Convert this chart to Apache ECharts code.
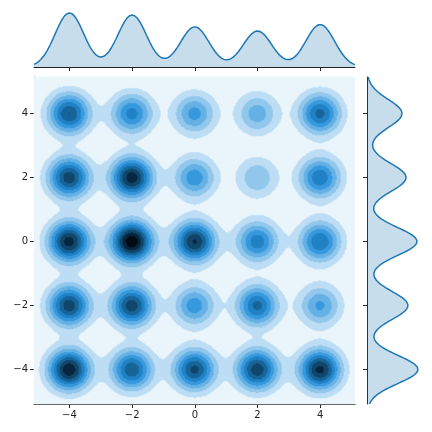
<!DOCTYPE html>
<html>
<head>
<meta charset="utf-8">
<script src="https://cdn.jsdelivr.net/npm/echarts@6/dist/echarts.min.js"></script>
<style>
  html, body { margin: 0; padding: 0; background: #fff; }
  #chart { width: 432px; height: 432px; }
</style>
</head>
<body>
<div id="chart"></div>
<script>
// blob centres on both axes
const centers = [-4, -2, 0, 2, 4]
const rowY = [4, 2, 0, -2, -4]
// peak density of each blob (in contour steps), rows y=4 .. y=-4
const peakRows = [
  [7.0, 5.4, 4.4, 3.6, 6.3],
  [7.6, 8.6, 4.7, 2.9, 5.8],
  [8.5, 9.8, 8.1, 5.6, 6.0],
  [7.6, 7.6, 4.6, 6.3, 4.2],
  [8.8, 6.8, 7.3, 7.7, 8.3]
]
// marginal kde peaks
const topPeaks = [0.209, 0.201, 0.155, 0.139, 0.164]   // x = -4 .. 4
const sidePeaks = [0.147, 0.164, 0.210, 0.172, 0.214]  // y = 4 .. -4
const tickValues = [-4, -2, 0, 2, 4]

const xRange = [-5.13, 5.11]
const yRange = [-5.08, 5.14]
const bwX = 0.46
const bwY = 0.44
const nLevels = 10

// colours: lightness ramp on the hue of C0 (#1f77b4), like seaborn's joint kde
function hlsToRgb(h, l, s) {
  const m2 = l <= 0.5 ? l * (1 + s) : l + s - l * s
  const m1 = 2 * l - m2
  const f = hh => {
    hh = ((hh % 1) + 1) % 1
    if (hh < 1 / 6) return m1 + (m2 - m1) * hh * 6
    if (hh < 0.5) return m2
    if (hh < 2 / 3) return m1 + (m2 - m1) * (2 / 3 - hh) * 6
    return m1
  }
  const c = [f(h + 1 / 3), f(h), f(h - 1 / 3)].map(v => Math.round(v * 255))
  return 'rgb(' + c.join(',') + ')'
}
const pieces = []
for (let k = 0; k < nLevels; k++) {
  const p = { color: hlsToRgb(0.5682, 1 - (k + 0.5) / nLevels, 0.706) }
  if (k > 0) p.gte = k
  if (k < nLevels - 1) p.lt = k + 1
  pieces.push(p)
}

// density grid for the filled contours, about one cell per pixel
const nx = 321
const ny = 327
const dx = (xRange[1] - xRange[0]) / nx
const dy = (yRange[1] - yRange[0]) / ny
const xCats = []
const yCats = []
for (let i = 0; i < nx; i++) xCats.push(String(i))
for (let j = 0; j < ny; j++) yCats.push(String(j))
const grid = []
for (let i = 0; i < nx; i++) {
  const x = xRange[0] + (i + 0.5) * dx
  for (let j = 0; j < ny; j++) {
    const y = yRange[0] + (j + 0.5) * dy
    let d = 0
    peakRows.forEach((row, r) => {
      const ey = Math.exp(-((y - rowY[r]) ** 2) / (2 * bwY * bwY))
      row.forEach((a, c) => {
        d += a * ey * Math.exp(-((x - centers[c]) ** 2) / (2 * bwX * bwX))
      })
    })
    grid.push([i, j, d])
  }
}

// marginal curves
const nS = 400
const topLine = []
const sideCats = []
const sideLine = []
for (let k = 0; k < nS; k++) {
  const x = xRange[0] + (k * (xRange[1] - xRange[0])) / (nS - 1)
  let d = 0
  topPeaks.forEach((p, c) => { d += p * Math.exp(-((x - centers[c]) ** 2) / (2 * bwX * bwX)) })
  topLine.push([x, d])
  const y = yRange[0] + (k * (yRange[1] - yRange[0])) / (nS - 1)
  let e = 0
  sidePeaks.forEach((p, r) => { e += p * Math.exp(-((y - rowY[r]) ** 2) / (2 * bwY * bwY)) })
  sideCats.push(String(k))
  sideLine.push(e)
}

const minus = v => (v < 0 ? '\u2212' + Math.abs(v) : String(v))
const lineCol = '#222'
const visAxis = (extra) => Object.assign({
  type: 'value',
  splitLine: { show: false },
  axisLine: { show: true, lineStyle: { color: lineCol, width: 1 } },
  axisTick: { show: true, length: 4, customValues: tickValues, lineStyle: { color: lineCol, width: 1 } },
  axisLabel: {
    show: true, customValues: tickValues, formatter: minus, margin: 6,
    fontSize: 10, fontFamily: 'DejaVu Sans', color: '#222'
  }
}, extra)

const chart = echarts.init(document.getElementById('chart'), null, { renderer: 'canvas' })
chart.setOption({
  animation: false,
  backgroundColor: '#fff',
  grid: [
    { left: 34, top: 77, width: 321, height: 327 },
    { left: 34, top: 2, width: 321, height: 65 },
    { left: 367, top: 77, width: 65, height: 327 }
  ],
  xAxis: [
    { type: 'category', gridIndex: 0, data: xCats, show: false, position: 'bottom' },
    visAxis({ gridIndex: 0, position: 'bottom', min: xRange[0], max: xRange[1] }),
    visAxis({ gridIndex: 1, position: 'bottom', min: xRange[0], max: xRange[1], axisLabel: { show: false } }),
    { type: 'value', gridIndex: 2, min: 0, max: 0.2729, show: false }
  ],
  yAxis: [
    { type: 'category', gridIndex: 0, data: yCats, show: false, position: 'left' },
    visAxis({ gridIndex: 0, position: 'left', min: yRange[0], max: yRange[1] }),
    { type: 'value', gridIndex: 1, min: 0, max: 0.2512, show: false },
    { type: 'category', gridIndex: 2, data: sideCats, boundaryGap: false, show: false, position: 'left' },
    visAxis({ gridIndex: 2, position: 'left', min: yRange[0], max: yRange[1], axisLabel: { show: false } })
  ],
  visualMap: {
    type: 'piecewise',
    show: false,
    seriesIndex: 0,
    dimension: 2,
    pieces: pieces
  },
  series: [
    {
      type: 'heatmap',
      xAxisIndex: 0,
      yAxisIndex: 0,
      data: grid,
      progressive: 0,
      emphasis: { disabled: true }
    },
    {
      type: 'line',
      xAxisIndex: 2,
      yAxisIndex: 2,
      data: topLine,
      showSymbol: false,
      lineStyle: { color: '#1f77b4', width: 1.5 },
      areaStyle: { color: 'rgba(31,119,180,0.25)', opacity: 1 }
    },
    {
      type: 'line',
      xAxisIndex: 3,
      yAxisIndex: 3,
      data: sideLine,
      showSymbol: false,
      lineStyle: { color: '#1f77b4', width: 1.5 },
      areaStyle: { color: 'rgba(31,119,180,0.25)', opacity: 1 }
    }
  ]
})
</script>
</body>
</html>
